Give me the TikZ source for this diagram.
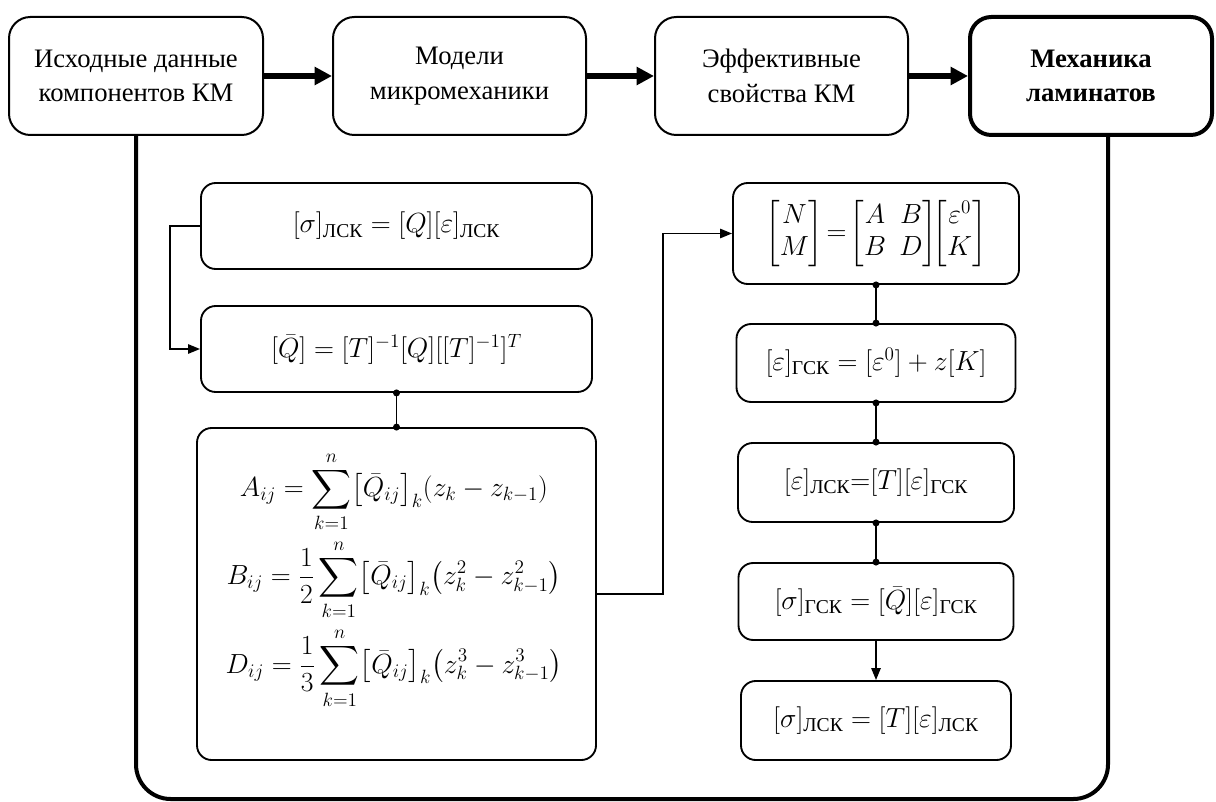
\documentclass[tikz,border=0pt]{standalone}
\usepackage{amsmath}
\usepackage{fontspec}
\setmainfont{Liberation Serif}
\usetikzlibrary{arrows.meta,calc}
\begin{document}
\begin{tikzpicture}[x=0.75pt,y=-0.75pt,
  topbox/.style={draw, line width=1.5pt, rounded corners=16pt, inner sep=0pt, align=center,
    minimum height=88.5pt, font=\fontsize{20}{26}\selectfont},
  mainbox/.style={topbox, line width=3pt, font=\fontsize{20}{26}\selectfont\bfseries},
  ibox/.style={draw, line width=1.4pt, rounded corners=11pt, inner sep=0pt, align=center,
    font=\fontsize{21}{25}\selectfont},
  ftext/.style={inner sep=0pt, font=\fontsize{21}{25}\selectfont},
  bigarrow/.style={line width=3.8pt, -{Triangle[length=13pt,width=13pt]}},
  conn/.style={line width=1.3pt},
  connarrow/.style={conn, -{Triangle[length=9pt,width=7pt]}},
  frameline/.style={line width=3pt, rounded corners=26pt},
  dot/.style={fill=black},
]
\useasboundingbox (0,0) rectangle (1216,802);
% top row
\node[topbox, minimum width=190.5pt] (B1) at (136,76) {Исходные данные\\компонентов КМ};
\node[topbox, minimum width=189.75pt] (B2) at (459.5,76) {Модели\\микромеханики};
\node[topbox, minimum width=189.75pt] (B3) at (781.5,76) {Эффективные\\свойства КМ};
\node[mainbox, minimum width=181.5pt] (B4) at (1091,76) {Механика\\ламинатов};
\draw[bigarrow] (B1) -- (B2);
\draw[bigarrow] (B2) -- (B3);
\draw[bigarrow] (B3) -- (B4);
% frame
\coordinate (FL) at (138,799);
\coordinate (FR) at (1108,799);
\coordinate (FT) at (1108,135);
\draw[frameline] (B1.south) -- (B1.south |- FL) -- (FR) -- (FT);
% left column
\node[ibox, minimum width=293.25pt, minimum height=64.5pt] (L1) at (396.5,226) {$[\sigma]_{\text{ЛСК}}=[Q][\varepsilon]_{\text{ЛСК}}$};
\node[ibox, minimum width=293.25pt, minimum height=64.5pt] (L2) at (396.5,349) {$[\bar{Q}]=[T]^{-1}[Q][[T]^{-1}]^{T}$};
\node[ibox, minimum width=299.25pt, minimum height=249pt] (L3) at (396.5,594) {};
\node[ftext] (fL3) at (394,580) {$\begin{gathered}
A_{ij}=\sum_{k=1}^{n}\bigl[\bar{Q}_{ij}\bigr]_{k}(z_{k}-z_{k-1})\\[1pt]
B_{ij}=\frac{1}{2}\sum_{k=1}^{n}\bigl[\bar{Q}_{ij}\bigr]_{k}\bigl(z_{k}^{2}-z_{k-1}^{2}\bigr)\\[1pt]
D_{ij}=\frac{1}{3}\sum_{k=1}^{n}\bigl[\bar{Q}_{ij}\bigr]_{k}\bigl(z_{k}^{3}-z_{k-1}^{3}\bigr)
\end{gathered}$};
% right column
\node[ibox, minimum width=214.5pt, minimum height=75.75pt, font=\fontsize{20}{24}\selectfont] (R1) at (876,233.5) {$\begin{bmatrix}N\\M\end{bmatrix}\!=\!\begin{bmatrix}A & B\\B & D\end{bmatrix}\!\!\begin{bmatrix}\varepsilon^{0}\\K\end{bmatrix}$};
\node[ibox, minimum width=209.25pt, minimum height=58.5pt] (R2) at (876,363) {$[\varepsilon]_{\text{ГСК}}=[\varepsilon^{0}]+z[K]$};
\node[ibox, minimum width=207pt, minimum height=59.25pt] (R3) at (876,482.5) {$[\varepsilon]_{\text{ЛСК}}{=}[T][\varepsilon]_{\text{ГСК}}$};
\node[ibox, minimum width=206.25pt, minimum height=57.75pt] (R4) at (876,601.5) {$[\sigma]_{\text{ГСК}}=[\bar{Q}][\varepsilon]_{\text{ГСК}}$};
\node[ibox, minimum width=202.5pt, minimum height=59.25pt] (R5) at (876,720.5) {$[\sigma]_{\text{ЛСК}}=[T][\varepsilon]_{\text{ЛСК}}$};
% connectors
\coordinate (c1) at (170,0);
\coordinate (c2) at (663,0);
\draw[connarrow] (L1.west) -- (L1.west -| c1) |- (L2.west);
\draw[conn] (L2.south) -- (L3.north);
\fill[dot] (L2.south) circle (3.5);
\fill[dot] (L3.north) circle (3.5);
\draw[connarrow] (L3.east) -- (L3.east -| c2) |- (R1.west);
\draw[conn] (R1.south) -- (R2.north);
\fill[dot] (R1.south) circle (3.5);
\fill[dot] (R2.north) circle (3.5);
\draw[conn] (R2.south) -- (R3.north);
\fill[dot] (R2.south) circle (3.5);
\fill[dot] (R3.north) circle (3.5);
\draw[conn] (R3.south) -- (R4.north);
\fill[dot] (R3.south) circle (3.5);
\fill[dot] (R4.north) circle (3.5);
\draw[connarrow] (R4.south) -- (R5.north);
\end{tikzpicture}
\end{document}
